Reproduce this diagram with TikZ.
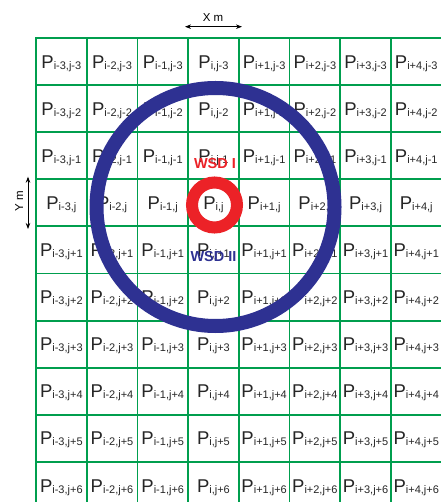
\documentclass[tikz,border=0pt]{standalone}
\usepackage{fontspec}
\setmainfont{Liberation Sans}
\usetikzlibrary{arrows.meta}
\definecolor{gridgreen}{RGB}{0,158,78}
\definecolor{wsdblue}{RGB}{46,49,146}
\definecolor{wsdred}{RGB}{236,34,39}
\newcommand{\cellP}[1]{\fontsize{18.5}{20}\selectfont P\raisebox{-1pt}{\fontsize{11}{12}\selectfont #1}}
\newcommand{\offs}[2]{#1\ifnum#2>0 +#2\fi\ifnum#2<0 #2\fi}
\begin{document}
\begin{tikzpicture}[x=1pt,y=-1pt,
  cellgrid/.style={gridgreen, line width=1.8pt},
  celltext/.style={anchor=base, inner sep=0pt, text=black!85},
  bigring/.style={wsdblue, line width=14pt},
  smallring/.style={wsdred, line width=12pt},
  wsdlabel/.style={anchor=base, inner sep=0pt, font=\fontsize{14.5}{16}\selectfont\bfseries},
  dimtext/.style={anchor=base, inner sep=0pt, font=\fontsize{11.5}{13}\selectfont},
  dimarrow/.style={line width=0.8pt, {Stealth[length=6pt,width=4.5pt]}-{Stealth[length=6pt,width=4.5pt]}}]
\useasboundingbox (0,0) rectangle (440,502);
\fill[white] (0,0) rectangle (440,502);
% grid
\foreach \k in {0,...,8} \draw[cellgrid] ({36+50.7*\k},38) -- ({36+50.7*\k},510);
\foreach \k in {0,...,10} \draw[cellgrid] (35.1,{38+47.1*\k}) -- (442.5,{38+47.1*\k});
% cell labels
\foreach \c in {0,...,7}{
  \foreach \r in {0,...,9}{
    \pgfmathtruncatemacro{\ioff}{\c-3}
    \pgfmathtruncatemacro{\joff}{\r-3}
    \node[celltext] (p\c-\r) at ({36+50.7*\c+25.35},{38+47.1*\r+23.55+6.6})
      {\cellP{\offs{i}{\ioff},\offs{j}{\joff}}};
  }
}
% rings
\coordinate (bigc) at (215.5,207);
\coordinate (smallc) at (214.5,205);
\draw[bigring] (bigc) circle[radius=119pt];
\draw[smallring] (smallc) circle[radius=22.5pt];
% ring labels
\node[wsdlabel, text=wsdred] (wsd1) at (215,168.3) {WSD I};
\node[wsdlabel, text=wsdblue] (wsd2) at (213.5,261.7) {WSD II};
% dimensions
\coordinate (xa) at (185,26.7);
\coordinate (xb) at (242,26.7);
\draw[dimarrow] (xa) -- (xb);
\node[dimtext] (xlab) at (213,21.7) {X m};
\coordinate (ya) at (28,176.7);
\coordinate (yb) at (28,229);
\draw[dimarrow] (ya) -- (yb);
\node[dimtext, rotate=90] (ylab) at (23,201.5) {Y m};
\end{tikzpicture}
\end{document}
